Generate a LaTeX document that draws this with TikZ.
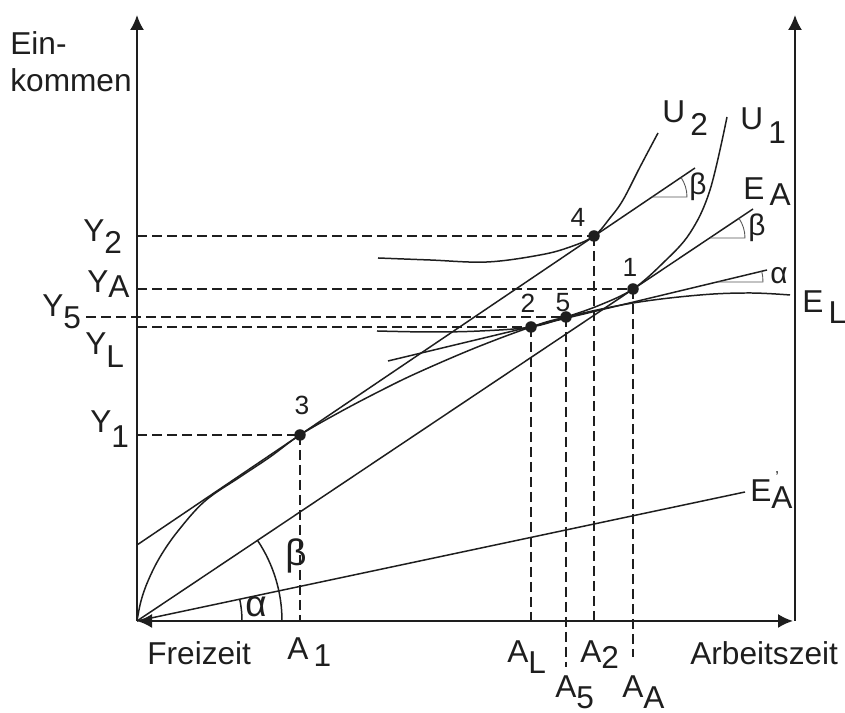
\documentclass[tikz,border=0pt]{standalone}
\usepackage{fontspec}
\setmainfont{Liberation Sans}
\usetikzlibrary{arrows.meta, positioning, calc}
\definecolor{ink}{RGB}{30, 30, 30}
\tikzset{
    axis/.style  ={draw=ink, line width=1.1pt},
    axarr/.style ={axis, -{Latex[length=3mm, width=2.8mm]}},
    crv/.style   ={draw=ink, line width=0.85pt},
    dsh/.style   ={draw=ink, line width=0.75pt, dash pattern=on 2mm off 1mm},
    mk/.style    ={draw=ink!75, line width=0.5pt},
    pt/.style    ={circle, fill=ink, inner sep=0pt, minimum size=2.3mm},
    lbl/.style   ={font=\fontsize{18}{21}\selectfont, text=ink, inner sep=0pt},
    num/.style   ={font=\fontsize{15}{17}\selectfont, text=ink, inner sep=0pt},
    grk/.style   ={font=\fontsize{17}{19}\selectfont, text=ink, inner sep=0pt},
    grkbig/.style={font=\fontsize{21}{24}\selectfont, text=ink, inner sep=0pt}
}
\newcommand{\idx}[2][0.32em]{\raisebox{-#1}{#2}}

\begin{document}
\begin{tikzpicture}[x=0.2mm, y=0.2mm]
  \useasboundingbox (0,0) rectangle (845,713);

  % ---- axes
  \coordinate (O)    at (137,92);
  \coordinate (ytop) at (137,698);
  \coordinate (xend) at (793,92);
  \coordinate (rbot) at (795,92);
  \coordinate (rtop) at (795,698);
  \draw[axarr] (O) -- (ytop);
  \draw[axis, {Latex[length=3mm, width=2.8mm]}-{Latex[length=3mm, width=2.8mm]}] (O) -- (xend);
  \draw[axarr] (rbot) -- (rtop);

  % ---- points
  \node[pt] (p1) at (633,424) {};
  \node[pt] (p2) at (531,386) {};
  \node[pt] (p3) at (300,278) {};
  \node[pt] (p4) at (594,477) {};
  \node[pt] (p5) at (566,396) {};

  % ---- straight income lines
  \coordinate (eaEnd)  at (753,504);
  \coordinate (eapEnd) at (745,221);
  \coordinate (bStart) at (137,168);
  \coordinate (bEnd)   at (695,545);
  \coordinate (aStart) at (388,352);
  \coordinate (aEnd)   at (767,443);
  \draw[crv] (O) -- (eaEnd);
  \draw[crv] (O) -- (eapEnd);
  \draw[crv] (bStart) -- (bEnd);
  \draw[crv] (aStart) -- (aEnd);

  % ---- E_L curve
  \draw[crv] plot[smooth, tension=0.6] coordinates {
      (137,92) (141,112) (148,132) (160,156) (178,182) (205,212) (240,236)
      (270,256) (300,278) (340,301) (380,322) (417,340) (475,365) (531,386)
      (566,396) (633,410) (700,418) (750,420) (790,418)};

  % ---- indifference curves
  \draw[crv] plot[smooth, tension=0.6] coordinates {
      (377,382) (430,381) (480,382) (531,386) (566,396) (600,408) (633,424)
      (663,450) (690,480) (710,523) (727,596)};
  \draw[crv] plot[smooth, tension=0.6] coordinates {
      (378,455) (430,453) (487,451) (540,458) (570,466) (594,477) (610,495)
      (623,513) (640,546) (658,580)};

  % ---- dashed guides
  \coordinate (y2) at (137,477);
  \coordinate (ya) at (137,424);
  \coordinate (y5) at (86,396);
  \coordinate (yl) at (137,386);
  \coordinate (y1) at (137,278);
  \coordinate (a1) at (300,92);
  \coordinate (al) at (531,92);
  \coordinate (a5) at (566,46);
  \coordinate (a2) at (594,92);
  \coordinate (aa) at (633,56);
  \draw[dsh] (y2) -- (p4.center);
  \draw[dsh] (ya) -- (p1.center);
  \draw[dsh] (y5) -- (p5.center);
  \draw[dsh] (yl) -- (p2.center);
  \draw[dsh] (y1) -- (p3.center);
  \draw[dsh] (p3.center) -- (a1);
  \draw[dsh] (p2.center) -- (al);
  \draw[dsh] (p5.center) -- (a5);
  \draw[dsh] (p4.center) -- (a2);
  \draw[dsh] (p1.center) -- (aa);

  % ---- angle marks
  \coordinate (vb1) at (652,516);
  \coordinate (vb2) at (710,475);
  \coordinate (va1) at (717,431);
  \draw[mk] (vb1) -- ++(35,0) arc[start angle=0, end angle=34, radius=7mm];
  \draw[mk] (vb2) -- ++(35,0) arc[start angle=0, end angle=34, radius=7mm];
  \draw[mk] (va1) -- ++(46,0) arc[start angle=0, end angle=13.5, radius=9.2mm];
  \draw[crv] (O) ++(145,0) arc[start angle=0, end angle=33.8, radius=29mm];
  \draw[crv] (O) ++(105,0) arc[start angle=0, end angle=12, radius=21mm];
  \node[grk]    (gb1) at (698,526) {β};
  \node[grk]    (gb2) at (757,485) {β};
  \node[grk]    (ga1) at (779,437) {α};
  \node[grkbig] (gb0) at (296,157) {β};
  \node[grkbig] (ga0) at (256,106) {α};

  % ---- point numbers
  \node[num] (n1) at (630,446) {1};
  \node[num] (n2) at (528,410) {2};
  \node[num] (n3) at (302,308) {3};
  \node[num] (n4) at (578,496) {4};
  \node[num] (n5) at (563,410) {5};

  % ---- axis labels
  \node[lbl, anchor=base west] (lEin)  at (10,658)  {Ein-};
  \node[lbl, anchor=base west] (lkom)  at (10,621)  {kommen};
  \node[lbl, anchor=base west] (lY2)   at (83,471)  {Y\idx[0.36em]{2}};
  \node[lbl, anchor=base west] (lYA)   at (87,420)  {Y\idx[0.14em]{A}};
  \node[lbl, anchor=base west] (lY5)   at (42,396)  {Y\idx[0.36em]{5}};
  \node[lbl, anchor=base west] (lYL)   at (85,358)  {Y\idx[0.4em]{L}};
  \node[lbl, anchor=base west] (lY1)   at (90,280)  {Y\idx[0.45em]{1}};
  \node[lbl, anchor=base west] (lFrei) at (147,48)  {Freizeit};
  \node[lbl, anchor=base west] (lA1)   at (287,53)  {A\,\idx[0.2em]{1}};
  \node[lbl, anchor=base west] (lAL)   at (507,50)  {A\idx{L}};
  \node[lbl, anchor=base west] (lA2)   at (580,50)  {A\idx[0.16em]{2}};
  \node[lbl, anchor=base west] (lA5)   at (555,15)  {A\idx{5}};
  \node[lbl, anchor=base west] (lAA)   at (622,15)  {A\idx{A}};
  \node[lbl, anchor=base west] (lArb)  at (690,48)  {Arbeitszeit};
  \node[lbl, anchor=base west] (lU2)   at (662,590) {U\,\idx[0.38em]{2}};
  \node[lbl, anchor=base west] (lU1)   at (740,583) {U\,\idx[0.42em]{1}};
  \node[lbl, anchor=base west] (lEA)   at (743,513) {E\,\idx[0.16em]{A}};
  \node[lbl, anchor=base west] (lEL)   at (802,400) {E\,\idx[0.32em]{L}};
  \node[lbl, anchor=base west] (lEAp)  at (750,211)
       {E\makebox[0pt][l]{\hspace{0.12em}\raisebox{0.62em}{\fontsize{9}{9}\selectfont'}}\idx[0.2em]{A}};
\end{tikzpicture}
\end{document}
